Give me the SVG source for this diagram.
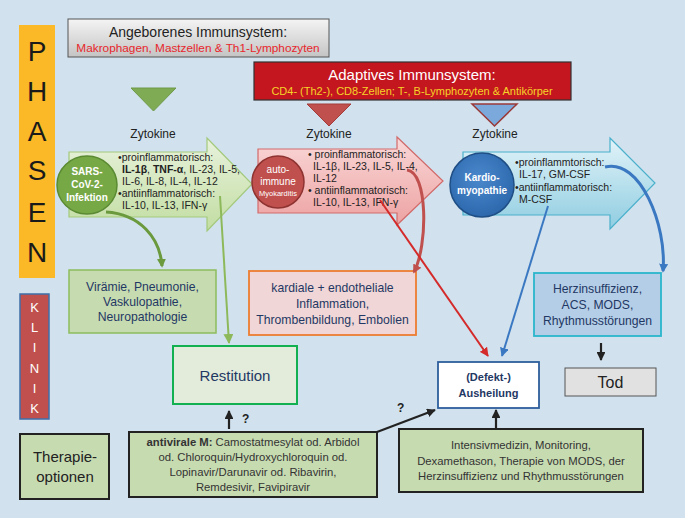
<svg xmlns="http://www.w3.org/2000/svg" width="685" height="518" viewBox="0 0 685 518">
<defs>
<linearGradient id="gGrey" x1="0" y1="0" x2="0" y2="1"><stop offset="0" stop-color="#f4f4f4"/><stop offset="1" stop-color="#c4c4c4"/></linearGradient>
<linearGradient id="gGreen" x1="0" y1="0" x2="0" y2="1"><stop offset="0" stop-color="#e8f2dc"/><stop offset="1" stop-color="#c2dda2"/></linearGradient>
<linearGradient id="gRed" x1="0" y1="0" x2="0" y2="1"><stop offset="0" stop-color="#fad8d8"/><stop offset="1" stop-color="#eda2a2"/></linearGradient>
<linearGradient id="gBlue" x1="0" y1="0" x2="0" y2="1"><stop offset="0" stop-color="#e2f3f9"/><stop offset="1" stop-color="#8fcde1"/></linearGradient>
<radialGradient id="gKardio" cx="0.45" cy="0.4" r="0.6"><stop offset="0" stop-color="#4a88cc"/><stop offset="1" stop-color="#2d68ad"/></radialGradient>
<marker id="mBlack" viewBox="0 0 10 10" refX="9" refY="5" markerWidth="4" markerHeight="4" orient="auto"><path d="M0,0 L10,5 L0,10 z" fill="#222"/></marker>
<marker id="mRed" viewBox="0 0 10 10" refX="9" refY="5" markerWidth="4.5" markerHeight="4.5" orient="auto"><path d="M0,0 L10,5 L0,10 z" fill="#d42a2a"/></marker>
<marker id="mBlueS" viewBox="0 0 10 10" refX="9" refY="5" markerWidth="4.5" markerHeight="4.5" orient="auto"><path d="M0,0 L10,5 L0,10 z" fill="#3b78c2"/></marker>
<marker id="mBlueC" viewBox="0 0 10 10" refX="8" refY="5" markerWidth="3" markerHeight="3" orient="auto"><path d="M0,0 L10,5 L0,10 z" fill="#3b78c2"/></marker>
<marker id="mRedC" viewBox="0 0 10 10" refX="8" refY="5" markerWidth="3" markerHeight="3" orient="auto"><path d="M0,0 L10,5 L0,10 z" fill="#c0504d"/></marker>
<marker id="mGreenC" viewBox="0 0 10 10" refX="8" refY="5" markerWidth="3" markerHeight="3" orient="auto"><path d="M0,0 L10,5 L0,10 z" fill="#6b9a3e"/></marker>
<marker id="mGreenT" viewBox="0 0 10 10" refX="9" refY="5" markerWidth="5" markerHeight="5" orient="auto"><path d="M0,0 L10,5 L0,10 z" fill="#8db95a"/></marker>
</defs>
<style>
text{font-family:"Liberation Sans",Arial,sans-serif;}
.zy{font-size:12px;fill:#222;text-anchor:middle;}
.at{font-size:10.5px;fill:#222;}
.bx{font-size:12.2px;fill:#1f3864;text-anchor:middle;}
.th{font-size:11.3px;fill:#333;text-anchor:middle;}
.ph{font-size:28px;fill:#1a1a1a;text-anchor:middle;}
.kl{font-size:13px;fill:#fff;text-anchor:middle;}
.ci{font-size:10px;fill:#fff;font-weight:bold;text-anchor:middle;}
.blk{stroke:#222;stroke-width:2.2;}
</style>
<rect x="0" y="0" width="685" height="518" fill="#d1e2ee"/>

<g id="phasen">
<rect x="19" y="25" width="36" height="253" fill="#fbb827"/>
<text class="ph" x="37" y="61">P</text>
<text class="ph" x="37" y="101">H</text>
<text class="ph" x="37" y="141">A</text>
<text class="ph" x="37" y="180">S</text>
<text class="ph" x="37" y="222">E</text>
<text class="ph" x="37" y="262">N</text>
</g>

<g id="klinik">
<rect x="20" y="294" width="29" height="125" fill="#c0504d" stroke="#3e6ea8" stroke-width="1.5"/>
<text class="kl" x="34.5" y="312">K</text>
<text class="kl" x="34.5" y="332">L</text>
<text class="kl" x="34.5" y="352">I</text>
<text class="kl" x="34.5" y="373">N</text>
<text class="kl" x="34.5" y="393">I</text>
<text class="kl" x="34.5" y="413">K</text>
</g>

<g id="angeboren">
<rect x="68" y="19" width="261" height="38" fill="url(#gGrey)" stroke="#555" stroke-width="1"/>
<text x="198" y="37" font-size="14" fill="#222" text-anchor="middle">Angeborenes Immunsystem:</text>
<text x="198" y="52" font-size="11.8" fill="#e8262c" text-anchor="middle">Makrophagen, Mastzellen &amp; Th1-Lymphozyten</text>
</g>

<g id="adaptiv">
<rect x="254" y="62" width="317" height="38" fill="#c4161f" stroke="#333" stroke-width="1.2"/>
<text x="412" y="80" font-size="15" fill="#fff" text-anchor="middle">Adaptives Immunsystem:</text>
<text x="412" y="95" font-size="11" fill="#f5d328" text-anchor="middle">CD4- (Th2-), CD8-Zellen; T-, B-Lymphozyten &amp; Antikörper</text>
</g>

<g id="triangles">
<path d="M131,88 L176,88 L153.5,111 z" fill="#7fab55" stroke="#6f9a48" stroke-width="1"/>
<path d="M307,104 L351,104 L329,126 z" fill="#c0504d" stroke="#a33c3a" stroke-width="1"/>
<path d="M472,104 L517,104 L494.5,126 z" fill="#7ba9dc" stroke="#9a3a38" stroke-width="1.5"/>
<text class="zy" x="153" y="138">Zytokine</text>
<text class="zy" x="329" y="138">Zytokine</text>
<text class="zy" x="495" y="138">Zytokine</text>
</g>

<g id="phase1">
<path d="M69,152 L207,152 L207,138 L252,184 L207,231 L207,217 L69,217 z" fill="url(#gGreen)" stroke="#a3c97c" stroke-width="1.2"/>
<ellipse cx="87" cy="185" rx="30" ry="29" fill="#77a846" stroke="#5a8a32" stroke-width="1.5"/>
<text class="ci" x="87" y="175">SARS-</text>
<text class="ci" x="87" y="188">CoV-2-</text>
<text class="ci" x="87" y="201">Infektion</text>
<text class="at" x="118" y="161">•proinflammatorisch:</text>
<text class="at" x="122" y="173"><tspan font-weight="bold">IL-1β</tspan>, <tspan font-weight="bold">TNF-α</tspan>, IL-23, IL-5,</text>
<text class="at" x="122" y="185">IL-6, IL-8, IL-4, IL-12</text>
<text class="at" x="118" y="197">•antiinflammatorisch:</text>
<text class="at" x="122" y="209">IL-10, IL-13, IFN-γ</text>
</g>

<g id="phase2">
<path d="M258,149 L397,149 L397,137 L443,181 L397,225 L397,213 L258,213 z" fill="url(#gRed)" stroke="#d26a6a" stroke-width="1.2"/>
<circle cx="278" cy="182" r="26" fill="#c0504d" stroke="#8e3331" stroke-width="1.5"/>
<text x="278" y="173" font-size="10" fill="#fff" text-anchor="middle">auto-</text>
<text x="278" y="185" font-size="10" fill="#fff" text-anchor="middle">immune</text>
<text x="278" y="196" font-size="7.5" fill="#fff" text-anchor="middle">Myokarditis</text>
<text class="at" x="308" y="158">• proinflammatorisch:</text>
<text class="at" x="313" y="170">IL-1β, IL-23, IL-5, IL-4,</text>
<text class="at" x="313" y="182">IL-12</text>
<text class="at" x="308" y="194">• antiinflammatorisch:</text>
<text class="at" x="313" y="206">IL-10, IL-13, IFN-γ</text>
</g>

<g id="phase3">
<path d="M463,152 L610,152 L610,138 L655,183 L610,229 L610,215 L463,215 z" fill="url(#gBlue)" stroke="#4bb0cc" stroke-width="1.2"/>
<circle cx="482" cy="185" r="32" fill="url(#gKardio)" stroke="#1f4e85" stroke-width="1.5"/>
<text class="ci" x="482" y="181">Kardio-</text>
<text class="ci" x="482" y="194">myopathie</text>
<text class="at" x="515" y="166">•proinflammtorisch:</text>
<text class="at" x="519" y="178">IL-17, GM-CSF</text>
<text class="at" x="515" y="191">•antiinflammatorisch:</text>
<text class="at" x="519" y="203">M-CSF</text>
</g>

<g id="viraemie">
<rect x="69" y="270" width="147" height="63" fill="#c7dbb1" stroke="#8dbd5e" stroke-width="1.5"/>
<text class="bx" x="142.5" y="291">Virämie, Pneumonie,</text>
<text class="bx" x="142.5" y="306">Vaskulopathie,</text>
<text class="bx" x="142.5" y="321">Neuropathologie</text>
</g>

<g id="kardiale">
<rect x="249" y="271" width="167" height="64" fill="#f0d6d6" stroke="#ed7d31" stroke-width="1.8"/>
<text class="bx" x="332.5" y="292">kardiale + endotheliale</text>
<text class="bx" x="332.5" y="308">Inflammation,</text>
<text class="bx" x="332.5" y="324">Thrombenbildung, Embolien</text>
</g>

<g id="herz">
<rect x="534" y="273" width="127" height="63" fill="#b5cee7" stroke="#2ab6cb" stroke-width="1.8"/>
<text class="bx" x="597.5" y="293">Herzinsuffizienz,</text>
<text class="bx" x="597.5" y="309">ACS, MODS,</text>
<text class="bx" x="597.5" y="325">Rhythmusstörungen</text>
</g>

<g id="tod">
<rect x="565" y="368" width="91" height="28" fill="#e1e1e1" stroke="#555" stroke-width="1"/>
<text x="610.5" y="388" font-size="16" fill="#222" text-anchor="middle">Tod</text>
</g>

<g id="restitution">
<rect x="173" y="346" width="124" height="58" fill="#e3ecda" stroke="#12b050" stroke-width="2"/>
<text x="235" y="381" font-size="15" fill="#1f3864" text-anchor="middle">Restitution</text>
</g>

<g id="defekt">
<rect x="438" y="362" width="101" height="46" fill="#fff" stroke="#2e5e9c" stroke-width="1.8"/>
<text x="488.5" y="381" font-size="11" font-weight="bold" fill="#1f3864" text-anchor="middle">(Defekt-)</text>
<text x="488.5" y="397" font-size="11" font-weight="bold" fill="#1f3864" text-anchor="middle">Ausheilung</text>
</g>

<g id="therapieoptionen">
<rect x="20" y="434" width="89" height="65" fill="#c7dbb1" stroke="#222" stroke-width="2"/>
<text x="65" y="462" font-size="15" fill="#222" text-anchor="middle">Therapie-</text>
<text x="65" y="482" font-size="15" fill="#222" text-anchor="middle">optionen</text>
</g>

<g id="antiviral">
<rect x="129" y="432" width="248" height="65" fill="#c7dbb1" stroke="#222" stroke-width="2"/>
<text class="th" x="253" y="446"><tspan font-weight="bold">antivirale M:</tspan> Camostatmesylat od. Arbidol</text>
<text class="th" x="253" y="461">od. Chloroquin/Hydroxychloroquin od.</text>
<text class="th" x="253" y="476">Lopinavir/Darunavir od. Ribavirin,</text>
<text class="th" x="253" y="491">Remdesivir, Favipiravir</text>
</g>

<g id="intensiv">
<rect x="399" y="429" width="244" height="63" fill="#c7dbb1" stroke="#222" stroke-width="2"/>
<text class="th" x="521" y="449">Intensivmedizin, Monitoring,</text>
<text class="th" x="521" y="465">Dexamethason, Therapie von MODS,  der</text>
<text class="th" x="521" y="480">Herzinsuffizienz und Rhythmusstörungen</text>
</g>

<g id="connectors" fill="none">
<path d="M106,212 C140,214 160,238 162,266" stroke="#6b9a3e" stroke-width="3" marker-end="url(#mGreenC)"/>
<path d="M220,196 L229,343" stroke="#8db95a" stroke-width="2" marker-end="url(#mGreenT)"/>
<path d="M407,170 C428,172 428,245 414,272" stroke="#c0504d" stroke-width="3" marker-end="url(#mRedC)"/>
<path d="M380,200 L488,356" stroke="#d42a2a" stroke-width="2" marker-end="url(#mRed)"/>
<path d="M548,206 L502,356" stroke="#3b78c2" stroke-width="2" marker-end="url(#mBlueS)"/>
<path d="M605,167 C640,158 667,225 663,271" stroke="#3b78c2" stroke-width="3" marker-end="url(#mBlueC)"/>
<path d="M601,343 L601,360" class="blk" marker-end="url(#mBlack)"/>
<path d="M229,429 L229,411" class="blk" marker-end="url(#mBlack)"/>
<path d="M496,428 L496,410" class="blk" marker-end="url(#mBlack)"/>
<path d="M377,432 L435,410" class="blk" marker-end="url(#mBlack)"/>
<text x="242" y="423" font-size="12" font-weight="bold" fill="#222" stroke="none">?</text>
<text x="397" y="412" font-size="12" font-weight="bold" fill="#222" stroke="none">?</text>
</g>
</svg>
